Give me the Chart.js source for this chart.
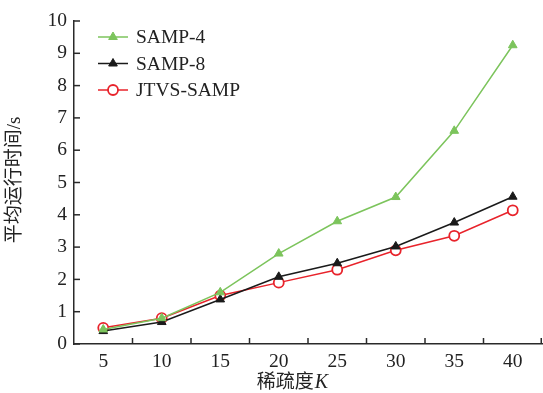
<!DOCTYPE html>
<html>
<head>
<meta charset="utf-8">
<script src="https://cdn.jsdelivr.net/npm/chart.js@4"></script>
<style>
  html, body { margin: 0; padding: 0; background: #fff; }
  #wrap { width: 543px; height: 393px; }
</style>
</head>
<body>
<div id="wrap"><canvas id="chart" width="543" height="393"></canvas></div>
<script>
// data
const sparsity = ["5", "10", "15", "20", "25", "30", "35", "40"];
const samp4 = [0.45, 0.8, 1.6, 2.8, 3.8, 4.55, 6.6, 9.25];
const samp8 = [0.4, 0.68, 1.38, 2.08, 2.5, 3.02, 3.76, 4.56];
const jtvs = [0.5, 0.8, 1.5, 1.9, 2.3, 2.9, 3.35, 4.14];
const yTicks = [0, 1, 2, 3, 4, 5, 6, 7, 8, 9, 10];

const serif = "'Liberation Serif', 'Noto Sans CJK SC', serif";
const axisColor = "#2a2a2a";
const fontSize = 19.5;

// inward tick marks, axis titles and the legend are drawn by hand
const decorPlugin = {
  id: "decor",
  afterDraw(chart) {
    const ctx = chart.ctx;
    const area = chart.chartArea;
    const xs = chart.scales.x;
    const ys = chart.scales.y;
    ctx.save();
    ctx.strokeStyle = axisColor;
    ctx.lineWidth = 1.5;
    // y ticks pointing right
    yTicks.forEach((v) => {
      const y = ys.getPixelForValue(v);
      ctx.beginPath();
      ctx.moveTo(area.left, y);
      ctx.lineTo(area.left + 6, y);
      ctx.stroke();
    });
    // x ticks between categories pointing up
    const step = xs.getPixelForValue(1) - xs.getPixelForValue(0);
    for (let i = 0; i < sparsity.length; i++) {
      const x = Math.min(xs.getPixelForValue(i) + step / 2, area.right - 0.75);
      ctx.beginPath();
      ctx.moveTo(x, area.bottom);
      ctx.lineTo(x, area.bottom - 6);
      ctx.stroke();
    }

    // y title
    ctx.fillStyle = "#222";
    ctx.font = "19px " + serif;
    ctx.textAlign = "center";
    ctx.textBaseline = "middle";
    ctx.translate(15, 180);
    ctx.rotate(-Math.PI / 2);
    ctx.fillText("平均运行时间/s", 0, 0);
    ctx.setTransform(1, 0, 0, 1, 0, 0);

    // x title with italic K
    ctx.textAlign = "left";
    const part1 = "稀疏度";
    ctx.font = "19px " + serif;
    const w1 = ctx.measureText(part1).width;
    ctx.font = "italic 20px " + serif;
    const w2 = ctx.measureText("K").width;
    const startX = 292 - (w1 + w2) / 2;
    ctx.font = "19px " + serif;
    ctx.fillText(part1, startX, 383);
    ctx.font = "italic 20px " + serif;
    ctx.fillText("K", startX + w1 + 1, 383);

    // legend
    chart.data.datasets.forEach((ds, i) => {
      const y = 37 + i * 26.5;
      ctx.strokeStyle = ds.borderColor;
      ctx.lineWidth = 1.5;
      ctx.beginPath();
      ctx.moveTo(98, y);
      ctx.lineTo(128, y);
      ctx.stroke();
      ctx.fillStyle = ds.pointBackgroundColor;
      ctx.strokeStyle = ds.pointBorderColor;
      ctx.lineWidth = ds.pointBorderWidth;
      Chart.helpers.drawPoint(ctx, {
        pointStyle: ds.pointStyle,
        radius: ds.pointRadius,
        borderWidth: ds.pointBorderWidth,
        rotation: 0
      }, 113, y);
      ctx.fillStyle = "#222";
      ctx.font = fontSize + "px " + serif;
      ctx.textBaseline = "middle";
      ctx.fillText(ds.label, 136, y + 1);
    });
    ctx.restore();
  }
};

const green = "#7cc45c";
const black = "#1a1a1a";
const red = "#e8232b";

new Chart(document.getElementById("chart"), {
  type: "line",
  data: {
    labels: sparsity,
    datasets: [
      {
        label: "SAMP-4",
        data: samp4,
        borderColor: green,
        borderWidth: 1.5,
        pointStyle: "triangle",
        pointRadius: 5,
        pointBackgroundColor: green,
        pointBorderColor: green,
        pointBorderWidth: 1,
        tension: 0
      },
      {
        label: "SAMP-8",
        data: samp8,
        borderColor: black,
        borderWidth: 1.5,
        pointStyle: "triangle",
        pointRadius: 5,
        pointBackgroundColor: black,
        pointBorderColor: black,
        pointBorderWidth: 1,
        tension: 0
      },
      {
        label: "JTVS-SAMP",
        data: jtvs,
        borderColor: red,
        borderWidth: 1.5,
        pointStyle: "circle",
        pointRadius: 5,
        pointBackgroundColor: "#fff",
        pointBorderColor: red,
        pointBorderWidth: 1.8,
        tension: 0
      }
    ]
  },
  options: {
    responsive: false,
    animation: false,
    events: [],
    layout: { autoPadding: false, padding: { top: 21, right: 1, left: 0, bottom: 0 } },
    plugins: {
      legend: { display: false },
      tooltip: { enabled: false }
    },
    scales: {
      x: {
        offset: true,
        grid: { display: false, drawTicks: false },
        border: { display: true, color: axisColor, width: 1.5 },
        ticks: {
          color: "#222",
          font: { family: serif, size: fontSize },
          padding: 6,
          maxRotation: 0
        },
        afterFit(scale) {
          scale.height = 49;
          scale.paddingLeft = 0;
          scale.paddingRight = 0;
        }
      },
      y: {
        min: 0,
        max: 10,
        afterBuildTicks(scale) { scale.ticks = yTicks.map((v) => ({ value: v })); },
        grid: { display: false, drawTicks: false },
        border: { display: true, color: axisColor, width: 1.5 },
        ticks: {
          color: "#222",
          font: { family: serif, size: fontSize },
          padding: 7
        },
        afterFit(scale) { scale.width = 74; }
      }
    }
  },
  plugins: [decorPlugin]
});
</script>
</body>
</html>
